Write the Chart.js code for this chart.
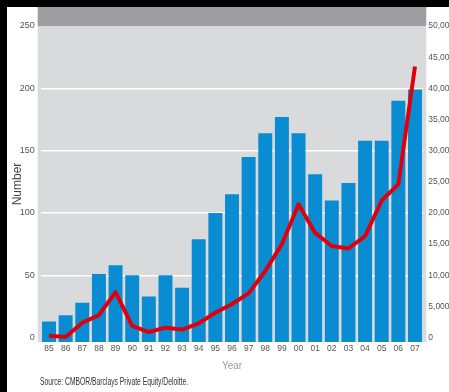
<!DOCTYPE html>
<html>
<head>
<meta charset="utf-8">
<script src="https://cdn.jsdelivr.net/npm/chart.js@4/dist/chart.umd.min.js"></script>
<style>
  html, body { margin: 0; padding: 0; background: #000; }
  #c { display: block; }
</style>
</head>
<body>
<canvas id="c" width="449" height="392"></canvas>
<script>
const years = ['85','86','87','88','89','90','91','92','93','94','95','96','97','98','99','00','01','02','03','04','05','06','07'];
const numberOfDeals = [13,18,28,51,58,50,33,50,40,79,100,115,145,164,177,164,131,110,124,158,158,190,199];
const dealValue = [300,100,2400,3600,7300,1900,900,1600,1300,2300,4000,5400,7100,10700,15000,21400,16800,14700,14300,16300,22000,24600,43500];
const leftTicks = [0,50,100,150,200,250];
const rightTicks = [0,5000,10000,15000,20000,25000,30000,35000,40000,45000,50000];
const sourceText = 'Source: CMBOR/Barclays Private Equity/Deloitte.';

const SANS = '"Liberation Sans", Arial, sans-serif';

const bgPlugin = {
  id: 'bg',
  beforeDraw(chart) {
    const ctx = chart.ctx, a = chart.chartArea;
    ctx.save();
    ctx.fillStyle = '#000';
    ctx.fillRect(0, 0, chart.width, chart.height);
    ctx.fillStyle = '#fff';
    ctx.fillRect(7, 7, chart.width - 7, chart.height - 7);
    ctx.fillStyle = '#9e9da2';
    ctx.fillRect(a.left - 3, 7, a.right - a.left + 6, a.top - 7);
    ctx.fillStyle = '#d8dadc';
    ctx.fillRect(a.left - 3, a.top, a.right - a.left + 6, a.bottom - a.top);
    ctx.restore();
  },
  afterDraw(chart) {
    const ctx = chart.ctx;
    ctx.save();
    ctx.fillStyle = '#333';
    ctx.font = '10.5px ' + SANS;
    ctx.textBaseline = 'middle';
    ctx.textAlign = 'left';
    const w = ctx.measureText(sourceText).width;
    ctx.translate(40, 382);
    ctx.scale(148 / w, 1);
    ctx.fillText(sourceText, 0, 0);
    ctx.restore();
  }
};

new Chart(document.getElementById('c'), {
  type: 'bar',
  data: {
    labels: years,
    datasets: [
      {
        type: 'line',
        data: dealValue,
        yAxisID: 'y2',
        borderColor: '#e0000c',
        borderWidth: 4,
        pointRadius: 0,
        tension: 0,
        fill: false,
        order: 0,
        borderJoinStyle: 'round'
      },
      {
        type: 'bar',
        data: numberOfDeals,
        yAxisID: 'y',
        backgroundColor: '#0a8cd2',
        barPercentage: 0.84,
        categoryPercentage: 1,
        base: -3.5,
        order: 1
      }
    ]
  },
  options: {
    responsive: false,
    animation: false,
    events: [],
    layout: { padding: { top: 26, bottom: 20, left: 0, right: 0 } },
    plugins: { legend: { display: false }, tooltip: { enabled: false } },
    scales: {
      x: {
        offset: true,
        grid: { display: false, drawTicks: false },
        border: { display: false },
        ticks: { color: '#555', font: { family: SANS, size: 8.5 }, padding: 2, maxRotation: 0, autoSkip: false },
        title: { display: true, text: 'Year', color: '#999', font: { family: SANS, size: 10 }, padding: { top: 2, bottom: 0 } },
        afterFit(s) { s.height = 30; }
      },
      y: {
        position: 'left',
        min: -3.5,
        max: 250,
        afterBuildTicks(s) { s.ticks = leftTicks.map(v => ({ value: v })); },
        grid: {
          drawTicks: false,
          lineWidth: 1.5,
          color: ctx => (ctx.tick && ctx.tick.value > 0 && ctx.tick.value < 250) ? '#ffffff' : 'rgba(0,0,0,0)'
        },
        border: { display: false },
        ticks: { color: '#555', font: { family: SANS, size: 9 }, padding: 6 },
        title: { display: true, text: 'Number', color: '#444', font: { family: SANS, size: 12 }, padding: { top: 10, bottom: 0 } },
        afterFit(s) { s.width = 40.7; }
      },
      y2: {
        position: 'right',
        min: -700,
        max: 50000,
        afterBuildTicks(s) { s.ticks = rightTicks.map(v => ({ value: v })); },
        grid: { display: false, drawTicks: false },
        border: { display: false },
        ticks: {
          color: '#555', font: { family: SANS, size: 8.5 }, padding: 5,
          callback: v => v.toLocaleString('en-US')
        },
        afterFit(s) { s.width = 25.7; }
      }
    }
  },
  plugins: [bgPlugin]
});
</script>
</body>
</html>
